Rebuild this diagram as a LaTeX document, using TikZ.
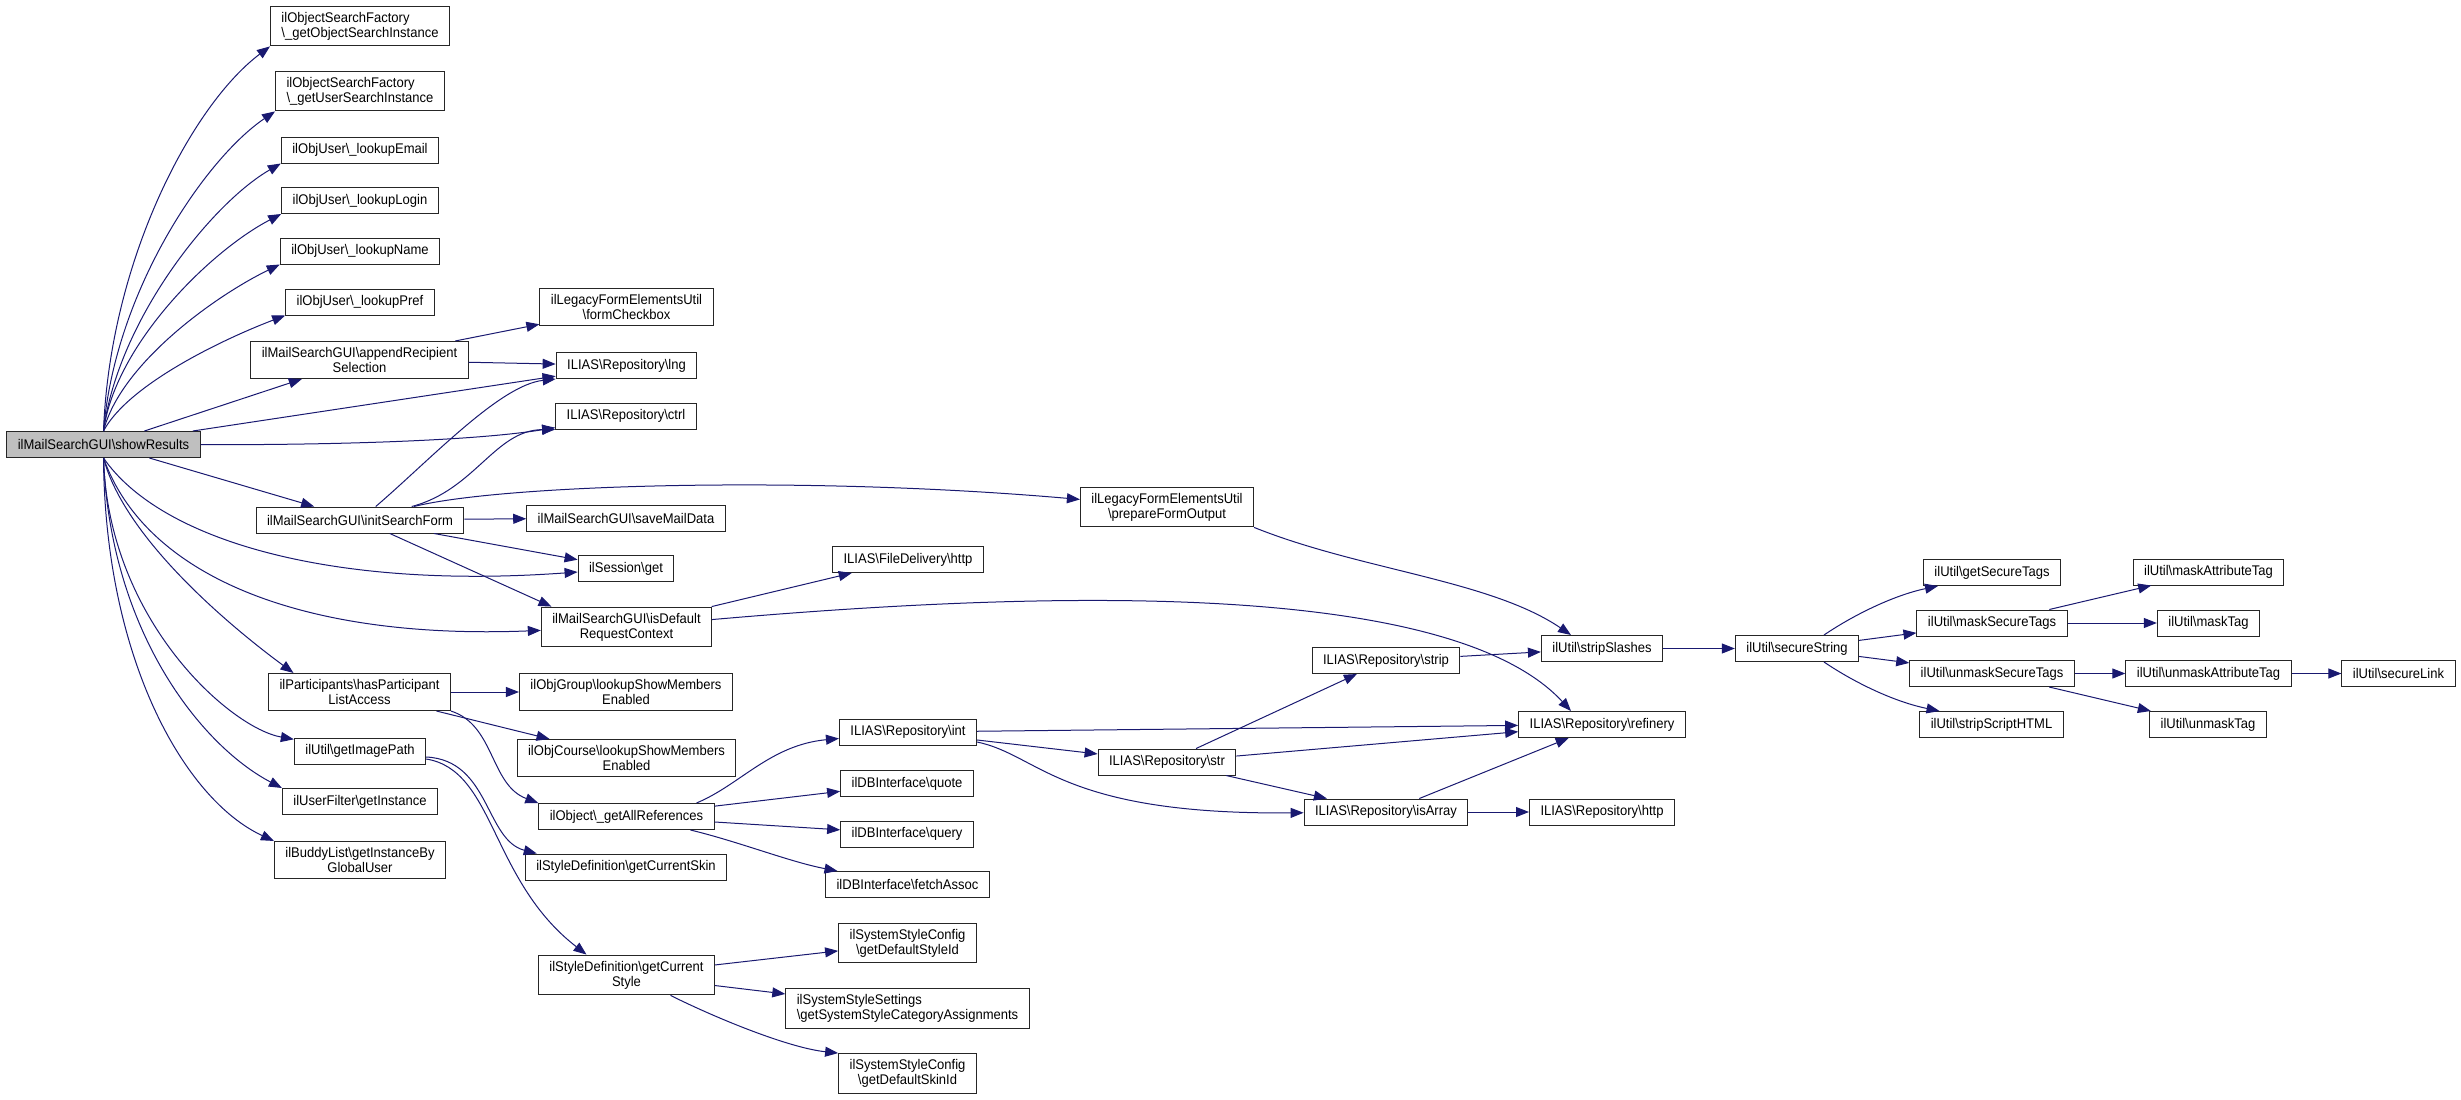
\documentclass[tikz,border=0pt]{standalone}
\usepackage{fontspec}
\setmainfont{Liberation Sans}[FakeStretch=0.93]
\usetikzlibrary{arrows.meta}
\definecolor{edgeblue}{HTML}{191970}
\definecolor{rootgrey}{HTML}{BFBFBF}
\newcommand{\bsl}{\textbackslash{}}
\begin{document}
\begin{tikzpicture}[x=1pt,y=-1pt,>={Triangle[length=13pt,width=10pt]},
  fn/.style={draw=black!85,line width=1pt,fill=white,font=\fontsize{14}{15}\selectfont,inner xsep=11pt,inner ysep=5.9pt,minimum height=26pt,align=center},
  cur/.style={fn,fill=rootgrey},
  call/.style={->,draw=edgeblue,line width=1pt}]
\useasboundingbox (0,0) rectangle (2461,1100);
\node[cur] (root) at (103.5,444.5) {ilMailSearchGUI\bsl{}showResults};
\node[fn,align=left] (gosi) at (360,26) {ilObjectSearchFactory\\\bsl{}\_getObjectSearchInstance};
\node[fn,align=left] (gusi) at (360,91) {ilObjectSearchFactory\\\bsl{}\_getUserSearchInstance};
\node[fn] (lemail) at (360,150) {ilObjUser\bsl{}\_lookupEmail};
\node[fn] (llogin) at (360,200.5) {ilObjUser\bsl{}\_lookupLogin};
\node[fn] (lname) at (360,251) {ilObjUser\bsl{}\_lookupName};
\node[fn] (lpref) at (360,302) {ilObjUser\bsl{}\_lookupPref};
\node[fn] (appsel) at (359.5,360) {ilMailSearchGUI\bsl{}appendRecipient\\Selection};
\node[fn] (isf) at (360,520) {ilMailSearchGUI\bsl{}initSearchForm};
\node[fn] (hpla) at (359.5,692) {ilParticipants\bsl{}hasParticipant\\ListAccess};
\node[fn] (gip) at (360,751) {ilUtil\bsl{}getImagePath};
\node[fn] (ufgi) at (360,801.5) {ilUserFilter\bsl{}getInstance};
\node[fn] (bgi) at (360,860) {ilBuddyList\bsl{}getInstanceBy\\GlobalUser};
\node[fn] (fcb) at (626.5,307) {ilLegacyFormElementsUtil\\\bsl{}formCheckbox};
\node[fn] (lng) at (626.5,365.5) {ILIAS\bsl{}Repository\bsl{}lng};
\node[fn] (ctrl) at (626,416) {ILIAS\bsl{}Repository\bsl{}ctrl};
\node[fn] (smd) at (626,518) {ilMailSearchGUI\bsl{}saveMailData};
\node[fn] (sget) at (626,568.5) {ilSession\bsl{}get};
\node[fn] (isdef) at (626.5,627) {ilMailSearchGUI\bsl{}isDefault\\RequestContext};
\node[fn] (ogrp) at (626,692) {ilObjGroup\bsl{}lookupShowMembers\\Enabled};
\node[fn] (ocrs) at (626.5,758) {ilObjCourse\bsl{}lookupShowMembers\\Enabled};
\node[fn] (gar) at (626.5,816.5) {ilObject\bsl{}\_getAllReferences};
\node[fn] (gcsk) at (626,867) {ilStyleDefinition\bsl{}getCurrentSkin};
\node[fn] (gcst) at (626.5,975) {ilStyleDefinition\bsl{}getCurrent\\Style};
\node[fn] (fdh) at (908,559.5) {ILIAS\bsl{}FileDelivery\bsl{}http};
\node[fn] (int) at (908,732) {ILIAS\bsl{}Repository\bsl{}int};
\node[fn] (quote) at (907,783.5) {ilDBInterface\bsl{}quote};
\node[fn] (query) at (907,834) {ilDBInterface\bsl{}query};
\node[fn] (fetch) at (907.5,884.5) {ilDBInterface\bsl{}fetchAssoc};
\node[fn] (gdsi) at (907.5,943) {ilSystemStyleConfig\\\bsl{}getDefaultStyleId};
\node[fn,align=left] (gssca) at (907.5,1008.5) {ilSystemStyleSettings\\\bsl{}getSystemStyleCategoryAssignments};
\node[fn] (gdski) at (907.5,1073.5) {ilSystemStyleConfig\\\bsl{}getDefaultSkinId};
\node[fn] (pfo) at (1167,507) {ilLegacyFormElementsUtil\\\bsl{}prepareFormOutput};
\node[fn] (str) at (1167,762) {ILIAS\bsl{}Repository\bsl{}str};
\node[fn] (strip) at (1386,660.5) {ILIAS\bsl{}Repository\bsl{}strip};
\node[fn] (isarr) at (1386,812) {ILIAS\bsl{}Repository\bsl{}isArray};
\node[fn] (ss) at (1602,648.5) {ilUtil\bsl{}stripSlashes};
\node[fn] (ref) at (1602,724.5) {ILIAS\bsl{}Repository\bsl{}refinery};
\node[fn] (rhttp) at (1602,812) {ILIAS\bsl{}Repository\bsl{}http};
\node[fn] (secstr) at (1797,648.5) {ilUtil\bsl{}secureString};
\node[fn] (gst) at (1992,572.5) {ilUtil\bsl{}getSecureTags};
\node[fn] (mst) at (1992,623) {ilUtil\bsl{}maskSecureTags};
\node[fn] (umst) at (1992,673.5) {ilUtil\bsl{}unmaskSecureTags};
\node[fn] (ssh) at (1991.5,724.5) {ilUtil\bsl{}stripScriptHTML};
\node[fn] (mat) at (2208.5,572) {ilUtil\bsl{}maskAttributeTag};
\node[fn] (mt) at (2208.5,623) {ilUtil\bsl{}maskTag};
\node[fn] (umat) at (2208.5,673.5) {ilUtil\bsl{}unmaskAttributeTag};
\node[fn] (umt) at (2208,724.5) {ilUtil\bsl{}unmaskTag};
\node[fn] (slink) at (2398.5,673.5) {ilUtil\bsl{}secureLink};
\draw[call] (root.north) .. controls (110,260) and (192,105) .. (gosi.south west);
\draw[call] (root.north) .. controls (115,290) and (206,158) .. (gusi.south west);
\draw[call] (root.north) .. controls (118,320) and (212,203) .. (lemail.south west);
\draw[call] (root.north) .. controls (115,345) and (210,251) .. (llogin.south west);
\draw[call] (root.north) .. controls (120,365) and (213,297) .. (lname.south west);
\draw[call] (root.north) .. controls (128,385) and (221,340) .. (lpref.south west);
\draw[call] (root) .. controls (350,445) and (480,440) .. (ctrl);
\draw[call] (root.south) .. controls (160,540) and (330,590) .. (sget);
\draw[call] (root.south) .. controls (145,575) and (300,640) .. (isdef);
\draw[call] (root.south) .. controls (125,540) and (235,630) .. ([xshift=-66pt]hpla.north);
\draw[call] (root.south) .. controls (108,620) and (230,728) .. (gip);
\draw[call] (root.south) .. controls (110,630) and (200,745) .. (ufgi.north west);
\draw[call] (root.south) .. controls (105,660) and (185,800) .. (bgi.north west);
\draw[call] (isf) .. controls (430,460) and (500,385) .. (lng.south west);
\draw[call] (isf) .. controls (475,490) and (495,430) .. (ctrl.south west);
\draw[call] (isf) .. controls (500,485) and (800,475) .. (pfo);
\draw[call] (isf) -- ([xshift=-75pt]isdef.north);
\draw[call] (isdef) .. controls (1050,590) and (1450,580) .. ([xshift=-31pt]ref.north);
\draw[call] (hpla.south east) .. controls (495,725) and (490,785) .. (gar.north west);
\draw[call] ([yshift=-6pt]gip.east) .. controls (490,760) and (485,840) .. ([xshift=12pt]gcsk.north west);
\draw[call] ([yshift=-8pt]gip.east) .. controls (495,770) and (490,880) .. ([xshift=-40pt]gcst.north);
\draw[call] ([xshift=70pt]gar.north) .. controls (740,785) and (770,745) .. (int);
\draw[call] ([xshift=64pt]gar.south) .. controls (740,842) and (790,862) .. ([xshift=-70pt]fetch.north);
\draw[call] ([xshift=44pt]gcst.south) .. controls (720,1020) and (790,1048) .. (gdski.north west);
\draw[call] ([yshift=-10pt]int.east) .. controls (1040,755) and (1060,815) .. (isarr);
\draw[call] (pfo.south east) .. controls (1360,570) and (1490,580) .. ([xshift=-31pt]ss.north);
\draw[call] ([xshift=27pt]secstr.north) .. controls (1855,614) and (1895,595) .. ([xshift=-54pt]gst.south);
\draw[call] ([xshift=27pt]secstr.south) .. controls (1855,683) and (1895,702) .. ([xshift=-52pt]ssh.north);
\foreach \a/\b in {root/appsel,root/lng,root/isf,appsel/fcb,appsel/lng,isf/smd,isf/sget,isdef/fdh,hpla/ogrp,hpla/ocrs,gar/quote,gar/query,gcst/gdsi,gcst/gssca,int/ref,int/str,str/strip,str/ref,str/isarr,strip/ss,isarr/ref,isarr/rhttp,ss/secstr,secstr/mst,secstr/umst,mst/mat,mst/mt,umst/umat,umst/umt,umat/slink}
  \draw[call] (\a) -- (\b);
\end{tikzpicture}
\end{document}
